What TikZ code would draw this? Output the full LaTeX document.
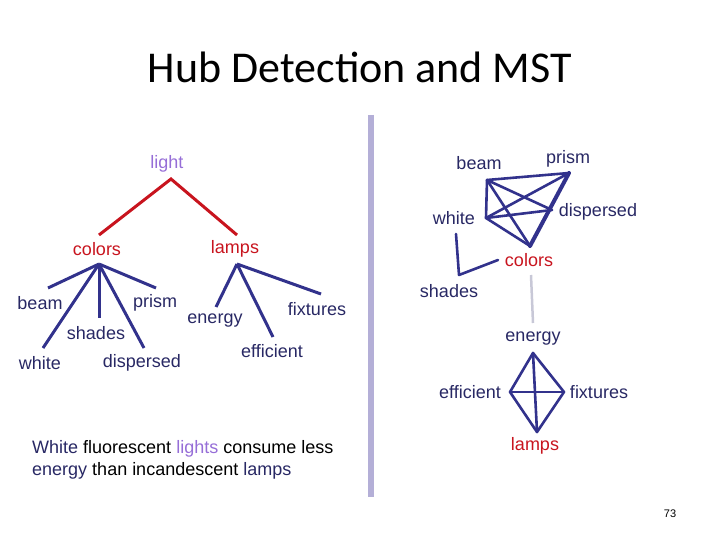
\documentclass[tikz,border=0pt]{standalone}
\usepackage{fontspec}
\setmainfont{Liberation Sans}
\newfontfamily\titlefont{Carlito}
\definecolor{navyline}{RGB}{50,50,140}
\definecolor{navytext}{RGB}{40,40,100}
\definecolor{redc}{RGB}{200,20,30}
\definecolor{purp}{RGB}{150,110,215}
\definecolor{divider}{RGB}{180,175,215}
\definecolor{grayln}{RGB}{200,200,215}
\tikzset{
  lbl/.style={inner sep=0pt, font=\fontsize{18}{21}\selectfont, text=navytext},
  redlbl/.style={lbl, text=redc},
  redline/.style={draw=redc, line width=3pt},
  blueline/.style={draw=navyline, line width=3pt},
  graphline/.style={draw=navyline, line width=2.6pt, line cap=round, line join=round},
}
\begin{document}
\begin{tikzpicture}[x=1pt,y=-1pt]
\useasboundingbox (0,0) rectangle (720,540);
% title
\node (title) at (360,67) {\titlefont\fontsize{44}{50}\selectfont Hub Detection and MST};
% divider
\draw[divider, line width=6pt] (371,115) -- (371,497);

% ---- left tree ----
\node[lbl, text=purp] (light) at (167,164) {light};
\node[redlbl] (colorsL) at (97,249) {colors};
\node[redlbl] (lampsL) at (235,249) {lamps};
\node[lbl] (beamL) at (40,303) {beam};
\node[lbl] (prismL) at (155,303) {prism};
\node[lbl] (shadesL) at (96,333) {shades};
\node[lbl] (whiteL) at (40,363) {white};
\node[lbl] (dispersedL) at (142,363) {dispersed};
\node[lbl] (energyL) at (215,321) {energy};
\node[lbl] (fixturesL) at (317,309) {fixtures};
\node[lbl] (efficientL) at (272,351) {efficient};

\coordinate (lightA) at (171,179);
\coordinate (colorsT) at (99,235);
\coordinate (lampsT) at (237,235);
\draw[redline] (colorsT) -- (lightA) -- (lampsT);

\coordinate (colorsA) at (99,264);
\coordinate (beamE) at (48,288);
\coordinate (whiteE) at (43,348);
\coordinate (shadesE) at (99,318);
\coordinate (dispE) at (144,348);
\coordinate (prismE) at (156,288);
\foreach \e in {beamE,whiteE,shadesE,dispE,prismE}
  \draw[blueline] (colorsA) -- (\e);

\coordinate (lampsA) at (237,264);
\coordinate (energyE) at (216,307);
\coordinate (efficientE) at (273,337);
\coordinate (fixturesE) at (321,294);
\foreach \e in {energyE,efficientE,fixturesE}
  \draw[blueline] (lampsA) -- (\e);

% ---- right graph ----
\node[lbl] (beamR) at (479,163) {beam};
\node[lbl] (prismR) at (568,159) {prism};
\node[lbl] (whiteR) at (454,218) {white};
\node[lbl] (dispersedR) at (598,212) {dispersed};
\node[redlbl] (colorsR) at (529,260) {colors};
\node[lbl] (shadesR) at (449,291) {shades};
\node[lbl] (energyR) at (533,339) {energy};
\node[lbl] (efficientR) at (470,392) {efficient};
\node[lbl] (fixturesR) at (599,392) {fixtures};
\node[redlbl] (lampsR) at (535,446) {lamps};

\coordinate (pBeam) at (487,180);
\coordinate (pPrism) at (569,173);
\coordinate (pWhite) at (486,218);
\coordinate (pDisp) at (552,210);
\coordinate (pColors) at (530,246);
\draw[graphline] (pBeam) -- (pPrism);
\draw[graphline] (pBeam) -- (pWhite);
\draw[graphline] (pBeam) -- (pDisp);
\draw[graphline] (pBeam) -- (pColors);
\draw[graphline] (pWhite) -- (pPrism);
\draw[graphline] (pWhite) -- (pDisp);
\draw[graphline] (pWhite) -- (pColors);
\draw[graphline, line width=4pt] (pPrism) -- (pColors);

\coordinate (sh1) at (456,234);
\coordinate (sh2) at (459,275);
\coordinate (sh3) at (498,260);
\draw[graphline] (sh1) -- (sh2) -- (sh3);

\coordinate (g1) at (531,275);
\coordinate (g2) at (533,323);
\draw[grayln, line width=2.5pt] (g1) -- (g2);

\coordinate (dTop) at (533,353);
\coordinate (dLeft) at (510,392);
\coordinate (dRight) at (564,392);
\coordinate (dBot) at (537,432);
\draw[graphline] (dTop) -- (dLeft) -- (dBot) -- (dRight) -- cycle;
\draw[graphline] (dTop) -- (dBot);
\draw[graphline] (dLeft) -- (dRight);

% ---- sentence ----
\node[inner sep=0pt, anchor=base west, align=left, font=\fontsize{18}{22}\selectfont] (sentence) at (32,475)
  {\textcolor{navytext}{White} fluorescent \textcolor{purp}{lights} consume less\\
   \textcolor{navytext}{energy} than incandescent \textcolor{navytext}{lamps}};

\node[font=\fontsize{11}{13}\selectfont] (pagenum) at (670,514) {73};
\end{tikzpicture}
\end{document}
